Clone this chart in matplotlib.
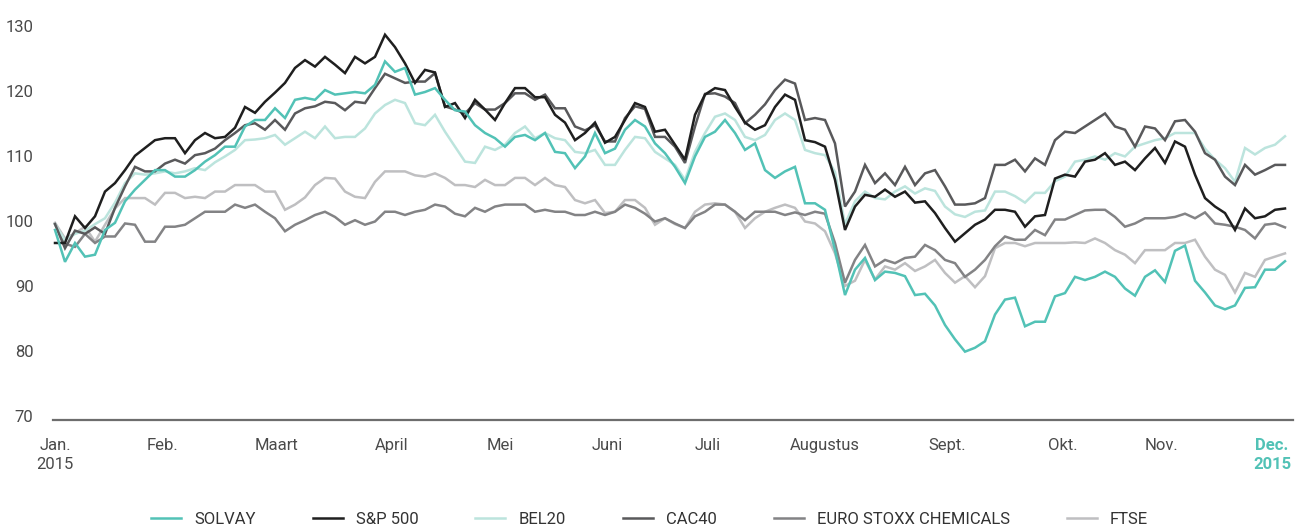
import numpy as np
import matplotlib
matplotlib.use("Agg")
import matplotlib.pyplot as plt

plt.rcParams["font.family"] = ["Roboto", "DejaVu Sans"]

# ── indexwaarden 2015 (basis 100), één punt per ~1,5 beursdag ──────────────
solvay = [98.6, 93.7, 96.6, 94.5, 94.8, 98.6, 99.7, 103.0, 104.8, 106.3, 107.8, 107.8, 106.8, 106.8,
          107.8, 109.1, 110.1, 111.4, 111.4, 114.5, 115.5, 115.5, 117.3, 115.8, 118.6, 118.9, 118.6,
          120.1, 119.4, 119.6, 119.8, 119.6, 120.9, 124.5, 122.9, 123.5, 119.4, 119.8, 120.4, 118.6,
          117.0, 116.8, 114.7, 113.5, 112.7, 111.4, 112.9, 113.2, 112.4, 113.5, 110.6, 110.4, 108.1,
          109.9, 113.5, 110.4, 111.1, 114.0, 115.5, 114.5, 111.9, 110.4, 108.3, 105.8, 109.9, 112.9,
          113.7, 115.5, 113.5, 110.9, 111.9, 107.8, 106.6, 107.6, 108.3, 102.7, 102.7, 101.7, 95.5,
          88.6, 92.5, 94.3, 90.9, 92.2, 92.0, 91.5, 88.6, 88.8, 87.0, 84.0, 81.8, 79.9, 80.5, 81.5,
          85.6, 87.9, 88.2, 83.8, 84.5, 84.5, 88.4, 88.9, 91.4, 90.9, 91.4, 92.2, 91.4, 89.6, 88.5,
          91.4, 92.4, 90.6, 95.4, 96.2, 90.8, 89.0, 87.0, 86.4, 87.0, 89.7, 89.8, 92.5, 92.5, 93.8]
sp500 = [96.6, 96.6, 100.7, 98.9, 100.7, 104.5, 105.8, 107.8, 110.0, 111.2, 112.4, 112.7, 112.7, 110.4,
         112.4, 113.5, 112.7, 112.9, 114.3, 117.5, 116.6, 118.3, 119.7, 121.2, 123.5, 124.7, 123.7,
         125.2, 124.0, 122.7, 125.2, 124.2, 125.2, 128.6, 126.7, 124.2, 121.2, 123.2, 122.8, 117.5,
         118.1, 115.8, 118.6, 117.1, 115.5, 118.1, 120.4, 120.4, 119.0, 119.0, 116.3, 115.1, 112.4,
         113.5, 115.1, 112.0, 112.9, 115.5, 118.1, 117.5, 113.7, 114.0, 111.7, 109.4, 116.3, 119.4,
         120.4, 120.1, 117.5, 115.1, 114.0, 114.7, 117.5, 119.4, 118.6, 112.4, 112.1, 111.4, 106.3,
         98.6, 102.2, 104.0, 103.7, 104.8, 103.7, 104.5, 102.8, 103.0, 101.2, 98.9, 96.8, 98.1, 99.4,
         100.2, 101.7, 101.7, 101.4, 99.1, 100.7, 100.9, 106.5, 107.1, 106.8, 109.1, 109.4, 110.4,
         108.6, 109.1, 107.8, 109.6, 111.2, 108.9, 112.2, 111.4, 107.1, 103.5, 102.2, 101.2, 98.6,
         101.9, 100.4, 100.7, 101.7, 101.9]
bel20 = [99.5, 97.0, 98.0, 98.5, 99.5, 100.4, 102.8, 105.8, 107.3, 107.1, 107.3, 107.6, 107.3, 107.6,
         108.1, 107.8, 109.0, 109.9, 110.9, 112.4, 112.5, 112.7, 113.2, 111.7, 112.7, 113.7, 112.7,
         114.5, 112.7, 112.9, 112.9, 114.2, 116.5, 117.8, 118.6, 118.1, 115.0, 114.7, 116.3, 113.7,
         111.4, 109.1, 108.9, 111.4, 110.9, 111.7, 113.5, 114.5, 112.7, 113.5, 112.7, 112.4, 110.6,
         110.4, 110.9, 108.6, 108.6, 110.9, 112.9, 112.7, 110.6, 109.6, 108.6, 106.3, 110.6, 113.5,
         116.0, 116.5, 115.5, 112.9, 112.4, 113.2, 115.5, 116.5, 115.5, 110.9, 110.4, 110.1, 107.5,
         99.5, 103.0, 104.5, 103.5, 103.3, 104.5, 105.3, 104.2, 105.0, 104.6, 102.2, 101.0, 100.6,
         101.4, 101.6, 104.5, 104.5, 103.8, 102.8, 104.3, 104.3, 106.1, 106.8, 109.1, 109.4, 109.9,
         109.4, 110.4, 109.9, 111.4, 111.9, 112.4, 112.7, 113.5, 113.5, 113.5, 111.1, 109.4, 108.1,
         106.0, 111.2, 110.2, 111.2, 111.7, 113.0]
cac40 = [99.5, 95.8, 98.5, 98.0, 99.0, 98.0, 102.0, 105.3, 108.3, 107.6, 107.6, 108.8, 109.4, 108.8,
         110.1, 110.4, 111.1, 112.4, 113.5, 114.7, 115.0, 114.0, 115.5, 114.0, 116.5, 117.3, 117.6,
         118.3, 118.1, 117.0, 118.3, 118.1, 120.4, 122.6, 121.9, 121.2, 121.4, 121.4, 122.7, 117.6,
         117.1, 116.5, 118.1, 117.1, 117.1, 118.1, 119.6, 119.6, 118.6, 119.4, 117.3, 117.3, 114.5,
         113.9, 114.7, 112.2, 112.2, 115.8, 117.6, 117.2, 112.9, 112.9, 111.4, 108.9, 114.5, 119.5,
         119.6, 119.1, 118.1, 115.0, 116.3, 117.9, 120.1, 121.7, 121.1, 115.5, 115.8, 115.5, 111.9,
         102.2, 104.5, 108.6, 105.8, 107.3, 105.5, 108.3, 105.5, 107.3, 107.8, 105.3, 102.5, 102.5,
         102.7, 103.5, 108.6, 108.6, 109.4, 107.6, 109.6, 108.6, 112.4, 113.7, 113.5, 114.5, 115.5,
         116.5, 114.5, 114.0, 111.4, 114.5, 114.2, 112.4, 115.3, 115.5, 113.7, 110.4, 109.4, 106.8,
         105.5, 108.6, 107.1, 107.8, 108.6, 108.6]
stoxx = [99.5, 96.5, 96.0, 98.0, 96.6, 97.6, 97.6, 99.6, 99.4, 96.8, 96.8, 99.1, 99.1, 99.4, 100.4,
         101.4, 101.4, 101.4, 102.5, 102.0, 102.5, 101.4, 100.4, 98.4, 99.4, 100.1, 100.9, 101.4,
         100.6, 99.4, 100.1, 99.4, 99.9, 101.4, 101.4, 100.9, 101.4, 101.7, 102.5, 102.2, 101.1,
         100.7, 102.0, 101.4, 102.2, 102.5, 102.5, 102.5, 101.4, 101.7, 101.4, 101.4, 100.9, 100.9,
         101.4, 100.9, 101.4, 102.5, 102.0, 101.1, 99.9, 100.4, 99.6, 98.9, 100.7, 101.4, 102.5,
         102.5, 101.4, 100.1, 101.4, 101.4, 101.4, 100.9, 101.3, 100.9, 101.4, 101.1, 96.6, 90.5,
         94.0, 96.3, 93.0, 94.0, 93.5, 94.3, 94.5, 96.3, 95.5, 94.0, 93.5, 91.4, 92.5, 94.0, 96.1,
         97.6, 97.1, 97.1, 98.6, 97.8, 100.2, 100.2, 100.9, 101.6, 101.7, 101.7, 100.6, 99.1, 99.6,
         100.4, 100.4, 100.4, 100.6, 101.1, 100.4, 101.3, 99.6, 99.4, 99.1, 98.6, 97.3, 99.4, 99.6,
         99.0]
ftse = [99.7, 97.3, 98.1, 99.1, 96.8, 99.4, 101.9, 103.5, 103.5, 103.5, 102.5, 104.3, 104.3, 103.5,
        103.7, 103.5, 104.5, 104.5, 105.5, 105.5, 105.5, 104.5, 104.5, 101.7, 102.5, 103.6, 105.5,
        106.6, 106.5, 104.5, 103.7, 103.5, 106.0, 107.6, 107.6, 107.6, 107.0, 106.8, 107.3, 106.6,
        105.5, 105.5, 105.2, 106.3, 105.5, 105.5, 106.6, 106.6, 105.5, 106.6, 105.5, 105.2, 103.2,
        102.7, 103.2, 101.2, 101.4, 103.2, 103.2, 102.0, 99.4, 100.4, 99.5, 98.9, 101.4, 102.5,
        102.7, 102.5, 101.4, 98.9, 100.4, 101.4, 102.0, 102.5, 102.0, 99.9, 99.6, 98.4, 95.0, 90.0,
        90.8, 94.0, 91.0, 93.0, 92.5, 93.5, 92.3, 93.0, 94.0, 92.0, 90.5, 91.5, 89.8, 91.5, 95.8,
        96.6, 96.6, 96.1, 96.6, 96.6, 96.6, 96.6, 96.7, 96.6, 97.3, 96.6, 95.5, 94.8, 93.5, 95.5,
        95.5, 95.5, 96.6, 96.6, 97.1, 94.5, 92.5, 91.7, 89.0, 92.0, 91.4, 94.0, 94.5, 95.0]

series_names = ["SOLVAY", "S&P 500", "BEL20", "CAC40", "EURO STOXX CHEMICALS", "FTSE"]
series_vals = [solvay, sp500, bel20, cac40, stoxx, ftse]
colors = ["#52c2b6", "#1f1f1f", "#bce4dd", "#59595b", "#838385", "#bfbfc1"]
zorders = [8, 7, 4, 5, 3, 2]

months = ["Jan.\n2015", "Feb.", "Maart", "April", "Mei", "Juni", "Juli", "Augustus",
          "Sept.", "Okt.", "Nov.", "Dec.\n2015"]
month_pos = [0, 10.7, 22.1, 33.7, 44.5, 55.2, 65.3, 77.0, 89.2, 100.8, 110.7, 121.7]
yticks = [70, 80, 90, 100, 110, 120, 130]

fig = plt.figure(figsize=(12.99, 5.29), dpi=100)
ax = fig.add_axes([53 / 1299, 1 - 420 / 529, 1240 / 1299, 410 / 529])

x = np.arange(len(solvay))
handles = []
for name, vals, c, z in zip(series_names, series_vals, colors, zorders):
    h, = ax.plot(x, vals, color=c, lw=1.8, zorder=z, label=name,
                 solid_joinstyle="miter")
    handles.append(h)

ax.set_xlim(-0.2, 123.8)
ax.set_ylim(69.4, 132.4)
ax.set_yticks(yticks)
ax.set_xticks(month_pos)
ax.set_xticklabels(months, linespacing=1.35)

for s in ["top", "right", "left"]:
    ax.spines[s].set_visible(False)
ax.spines["bottom"].set_color("#6d6d6d")
ax.spines["bottom"].set_linewidth(1.6)
ax.tick_params(axis="both", length=0, labelsize=12, colors="#4a4a4a")
ax.tick_params(axis="y", pad=14)
ax.tick_params(axis="x", pad=13)
for lbl in ax.get_xticklabels():
    lbl.set_verticalalignment("top")
dec = ax.get_xticklabels()[-1]
dec.set_color("#52c2b6")
dec.set_fontweight("bold")

fig.legend(handles=handles, loc="center", bbox_to_anchor=(0.5, 0.018),
           ncol=6, frameon=False, fontsize=12, handlelength=1.8,
           handletextpad=0.8, columnspacing=3.4, labelcolor="#333333",
           borderpad=0.1)

fig.savefig("out.png", dpi=100)
